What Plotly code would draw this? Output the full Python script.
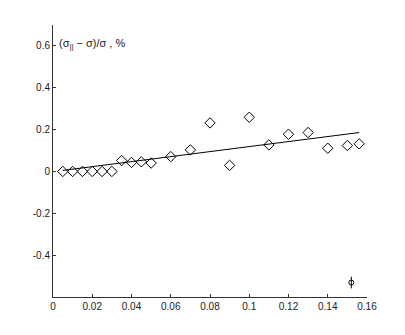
import plotly.graph_objects as go

phi = [0.005, 0.01, 0.015, 0.02, 0.025, 0.03, 0.035, 0.04, 0.045, 0.05,
       0.06, 0.07, 0.08, 0.09, 0.10, 0.11, 0.12, 0.13, 0.14, 0.15, 0.156]
delta = [0.0, 0.0, 0.0, 0.0, 0.0, 0.0, 0.052, 0.043, 0.046, 0.04,
         0.071, 0.103, 0.232, 0.029, 0.259, 0.127, 0.178, 0.186, 0.111, 0.124, 0.132]
fit_x = [0.005, 0.156]
fit_y = [0.005, 0.186]
err_x = [0.152]
err_y = [-0.531]
err_size = [0.028]

x_ticks = [0, 0.02, 0.04, 0.06, 0.08, 0.1, 0.12, 0.14, 0.16]
x_labels = ["0", "0.02", "0.04", "0.06", "0.08", "0.1", "0.12", "0.14", "0.16"]
y_ticks = [-0.4, -0.2, 0, 0.2, 0.4, 0.6]
y_labels = ["-0.4", "-0.2", "0", "0.2", "0.4", "0.6"]

fig = go.Figure()
fig.add_trace(go.Scatter(x=fit_x, y=fit_y, mode="lines",
                         line=dict(color="black", width=1), showlegend=False))
fig.add_trace(go.Scatter(x=phi, y=delta, mode="markers",
                         marker=dict(symbol="diamond-open", size=8, color="black",
                                     line=dict(width=1)), showlegend=False))
fig.add_trace(go.Scatter(x=err_x, y=err_y, mode="markers",
                         marker=dict(symbol="circle-open", size=5, color="black",
                                     line=dict(width=1)),
                         error_y=dict(type="data", array=err_size, visible=True,
                                      color="black", thickness=1, width=0),
                         showlegend=False))

fig.add_annotation(x=0.002, y=0.61, xref="x", yref="y", xanchor="left", yanchor="middle",
                   text="(σ<sub>||</sub> − σ)/σ , %", showarrow=False,
                   font=dict(family="Liberation Sans, Arial", size=11, color="#222"))

axis_common = dict(showgrid=False, zeroline=False, showline=True, linecolor="#333",
                   linewidth=1, ticks="inside", ticklen=3, tickcolor="#333",
                   tickfont=dict(family="Liberation Sans, Arial", size=10, color="#222"))
fig.update_xaxes(range=[0, 0.16], tickvals=x_ticks, ticktext=x_labels, **axis_common)
fig.update_yaxes(range=[-0.6, 0.7], tickvals=y_ticks, ticktext=y_labels, **axis_common)

fig.update_layout(width=405, height=335, margin=dict(l=53, r=38, t=25, b=38),
                  plot_bgcolor="white", paper_bgcolor="white",
                  font=dict(family="Liberation Sans, Arial", size=10, color="#222"))
fig.write_html("out.html")
